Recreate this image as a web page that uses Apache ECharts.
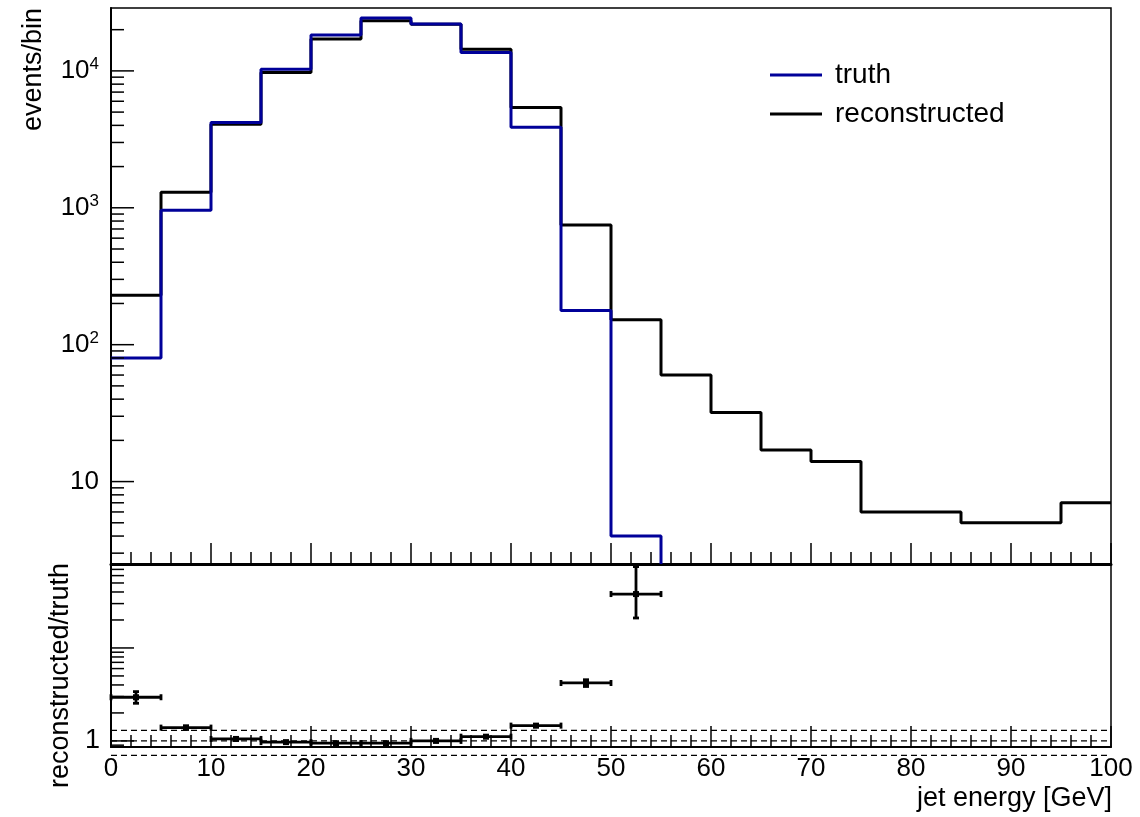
<!DOCTYPE html>
<html><head><meta charset="utf-8">
<script src="https://cdn.jsdelivr.net/npm/echarts@6/dist/echarts.min.js"></script>
<style>html,body{margin:0;padding:0;background:#fff}#c{width:1140px;height:817px}</style>
</head><body><div id="c"></div>
<script>
// ---- data ----
const binEdges = [0,5,10,15,20,25,30,35,40,45,50,55,60,65,70,75,80,85,90,95,100];
const truth = [80, 960, 4190, 10300, 18300, 24300, 22000, 13600, 3880, 178, 4, 0,0,0,0,0,0,0,0,0];
const reco  = [230, 1300, 4080, 9720, 17100, 23200, 21900, 14400, 5400, 750, 152, 60, 32, 17, 14, 6, 6, 5, 5, 7];
// ratio reconstructed/truth (bins with truth > 0)
const ratio     = [2.95, 1.39, 1.05, 0.97, 0.945, 0.945, 1.0, 1.11, 1.46, 4.2, 38];
const ratioLow  = [2.54, 1.33, 1.02, 0.95, 0.93, 0.93, 0.985, 1.09, 1.42, 3.85, 21];
const ratioHigh = [3.39, 1.45, 1.08, 0.99, 0.96, 0.96, 1.015, 1.13, 1.50, 4.55, 75];
const refLines = [0.7, 1.0, 1.3];
// tick labels
const upperMajorTicks = [10, 100, 1000, 10000];
const upperMajorLabels = ['10', '10{sup|2}', '10{sup|3}', '10{sup|4}'];
const upperMinorTicks = [3,4,5,6,7,8,9,20,30,40,50,60,70,80,90,200,300,400,500,600,700,800,900,2000,3000,4000,5000,6000,7000,8000,9000,20000];
const lowerMajorTicks = [1, 10];
const lowerMajorLabels = ['1', ''];
const lowerMinorTicks = [0.9,2,3,4,5,6,7,8,9,20,30,40,50,60,70,80];
const xTickLabels = ['0','10','20','30','40','50','60','70','80','90','100'];

const X_MIN = 0, X_MAX = 100;
const UP_MIN = 2.5, UP_MAX = 28800;
const LO_MIN = 0.86, LO_MAX = 80;
const FONT = '"Liberation Sans", Arial, Helvetica, sans-serif';
const BLUE = '#000099';

// ---- build series data ----
const recoLine = reco.map((v, i) => [binEdges[i], v]);
recoLine.push([binEdges[binEdges.length - 1], reco[reco.length - 1]]);
let lastT = -1;
truth.forEach((v, i) => { if (v > 0) lastT = i; });
const truthLine = [];
for (let i = 0; i <= lastT; i++) truthLine.push([binEdges[i], truth[i]]);
truthLine.push([binEdges[lastT + 1], UP_MIN]);

const ratioData = ratio.map((r, i) => [
  (binEdges[i] + binEdges[i + 1]) / 2, r, ratioLow[i], ratioHigh[i], (binEdges[i + 1] - binEdges[i]) / 2
]);

function labelFmt(values, labels) {
  return function (v) {
    for (let i = 0; i < values.length; i++) {
      if (Math.abs(v - values[i]) / values[i] < 1e-6) return labels[i];
    }
    return '';
  };
}

function tickSeries(xi, yi, majors, minors, majLen, minLen) {
  const data = majors.map(v => [X_MIN, v, 1]).concat(minors.map(v => [X_MIN, v, 0]));
  return {
    type: 'custom', xAxisIndex: xi, yAxisIndex: yi, silent: true, z: 5,
    data: data,
    encode: { x: 0, y: 1 },
    renderItem: function (params, api) {
      const p = api.coord([api.value(0), api.value(1)]);
      const len = api.value(2) ? majLen : minLen;
      return { type: 'line', shape: { x1: p[0], y1: p[1], x2: p[0] + len, y2: p[1] },
               style: { stroke: '#000', lineWidth: 1.5 } };
    }
  };
}

const chart = echarts.init(document.getElementById('c'), null, { renderer: 'canvas' });

const xCommon = {
  type: 'value', min: X_MIN, max: X_MAX, interval: 10,
  splitLine: { show: false },
  axisLine: { show: true, onZero: false, lineStyle: { color: '#000', width: 2 } },
  axisTick: { show: true, inside: true, length: 21, lineStyle: { color: '#000', width: 1.5 } },
  minorTick: { show: true, splitNumber: 5, length: 12, lineStyle: { color: '#000', width: 1.5 } },
  minorSplitLine: { show: false }
};

const option = {
  animation: false,
  backgroundColor: '#fff',
  grid: [
    { left: 111, top: 8, width: 1000, height: 556, show: true, borderColor: '#000', borderWidth: 1.5, backgroundColor: 'transparent' },
    { left: 111, top: 564, width: 1000, height: 183, show: true, borderColor: '#000', borderWidth: 1.5, backgroundColor: 'transparent' }
  ],
  xAxis: [
    Object.assign({}, xCommon, { gridIndex: 0, axisLabel: { show: false },
      axisLine: { show: true, onZero: false, lineStyle: { color: '#000', width: 3 } } }),
    Object.assign({}, xCommon, { gridIndex: 1,
      axisLabel: { show: true, margin: 9, fontSize: 26, fontFamily: FONT, color: '#000',
        formatter: function (v) { return xTickLabels[Math.round(v / 10)]; } } })
  ],
  yAxis: [
    { type: 'log', logBase: 10, gridIndex: 0, min: UP_MIN, max: UP_MAX,
      splitLine: { show: false }, axisTick: { show: false }, minorTick: { show: false },
      axisLine: { show: true, onZero: false, lineStyle: { color: '#000', width: 2 } },
      axisLabel: { show: true, margin: 12, fontSize: 26, fontFamily: FONT, color: '#000', lineHeight: 30,
        showMinLabel: true, showMaxLabel: true,
        formatter: labelFmt(upperMajorTicks, upperMajorLabels),
        rich: { sup: { fontSize: 17, fontFamily: FONT, color: '#000', lineHeight: 17, padding: [0, 0, 13, 0], verticalAlign: 'top' } } } },
    { type: 'log', logBase: 10, gridIndex: 1, min: LO_MIN, max: LO_MAX,
      splitLine: { show: false }, axisTick: { show: false }, minorTick: { show: false },
      axisLine: { show: true, onZero: false, lineStyle: { color: '#000', width: 2 } },
      axisLabel: { show: true, margin: 11, fontSize: 27, fontFamily: FONT, color: '#000',
        formatter: labelFmt(lowerMajorTicks, lowerMajorLabels) } }
  ],
  legend: {
    orient: 'vertical', left: 770, top: 60, padding: 0, itemWidth: 52, itemHeight: 3, itemGap: 9,
    icon: 'rect', selectedMode: false,
    textStyle: { fontSize: 28, fontFamily: FONT, color: '#000', lineHeight: 30, padding: [0, 0, 0, 8] },
    data: ['truth', 'reconstructed']
  },
  graphic: [
    { type: 'text', x: 34, y: 8, rotation: Math.PI / 2,
      style: { text: 'events/bin', font: '27px ' + FONT, align: 'right', verticalAlign: 'middle', fill: '#000' } },
    { type: 'text', x: 61, y: 563, rotation: Math.PI / 2,
      style: { text: 'reconstructed/truth', font: '27px ' + FONT, align: 'right', verticalAlign: 'middle', fill: '#000' } },
    { type: 'text', x: 1112, y: 799,
      style: { text: 'jet energy [GeV]', font: '27px ' + FONT, align: 'right', verticalAlign: 'middle', fill: '#000' } }
  ],
  series: [
    { name: 'reconstructed', type: 'line', xAxisIndex: 0, yAxisIndex: 0, step: 'end',
      data: recoLine, showSymbol: false, symbol: 'none', color: '#000',
      lineStyle: { color: '#000', width: 3 }, itemStyle: { color: '#000' }, z: 3 },
    { name: 'truth', type: 'line', xAxisIndex: 0, yAxisIndex: 0, step: 'end',
      data: truthLine, showSymbol: false, symbol: 'none', color: BLUE,
      lineStyle: { color: BLUE, width: 3 }, itemStyle: { color: BLUE }, z: 4 },
    tickSeries(0, 0, upperMajorTicks, upperMinorTicks, 23, 13),
    tickSeries(1, 1, lowerMajorTicks, lowerMinorTicks, 23, 13),
    { type: 'custom', xAxisIndex: 1, yAxisIndex: 1, silent: true, z: 2,
      data: refLines.map(v => [X_MIN, v, X_MAX]),
      encode: { x: [0, 2], y: 1 },
      renderItem: function (params, api) {
        const a = api.coord([api.value(0), api.value(1)]);
        const b = api.coord([api.value(2), api.value(1)]);
        return { type: 'line', shape: { x1: a[0], y1: a[1], x2: b[0], y2: b[1] },
                 style: { stroke: '#000', lineWidth: 1.2, lineDash: [6, 4] } };
      } },
    { type: 'custom', name: 'ratio', xAxisIndex: 1, yAxisIndex: 1, silent: true, z: 6,
      data: ratioData,
      encode: { x: 0, y: 1 },
      renderItem: function (params, api) {
        const x = api.value(0), y = api.value(1), lo = api.value(2), hi = api.value(3), hw = api.value(4);
        const c = api.coord([x, y]);
        const l = api.coord([x - hw, y]), r = api.coord([x + hw, y]);
        const pl = api.coord([x, lo]), ph = api.coord([x, hi]);
        const st = { stroke: '#000', lineWidth: 2.8 };
        const cap = 3;
        return { type: 'group', children: [
          { type: 'line', shape: { x1: l[0], y1: c[1], x2: r[0], y2: c[1] }, style: st },
          { type: 'line', shape: { x1: l[0], y1: c[1] - cap, x2: l[0], y2: c[1] + cap }, style: st },
          { type: 'line', shape: { x1: r[0], y1: c[1] - cap, x2: r[0], y2: c[1] + cap }, style: st },
          { type: 'line', shape: { x1: c[0], y1: pl[1], x2: c[0], y2: ph[1] }, style: st },
          { type: 'line', shape: { x1: c[0] - cap, y1: pl[1], x2: c[0] + cap, y2: pl[1] }, style: st },
          { type: 'line', shape: { x1: c[0] - cap, y1: ph[1], x2: c[0] + cap, y2: ph[1] }, style: st },
          { type: 'rect', shape: { x: c[0] - 3, y: c[1] - 3, width: 6, height: 6 }, style: { fill: '#000' } }
        ] };
      } }
  ]
};
chart.setOption(option);
</script>
</body></html>
